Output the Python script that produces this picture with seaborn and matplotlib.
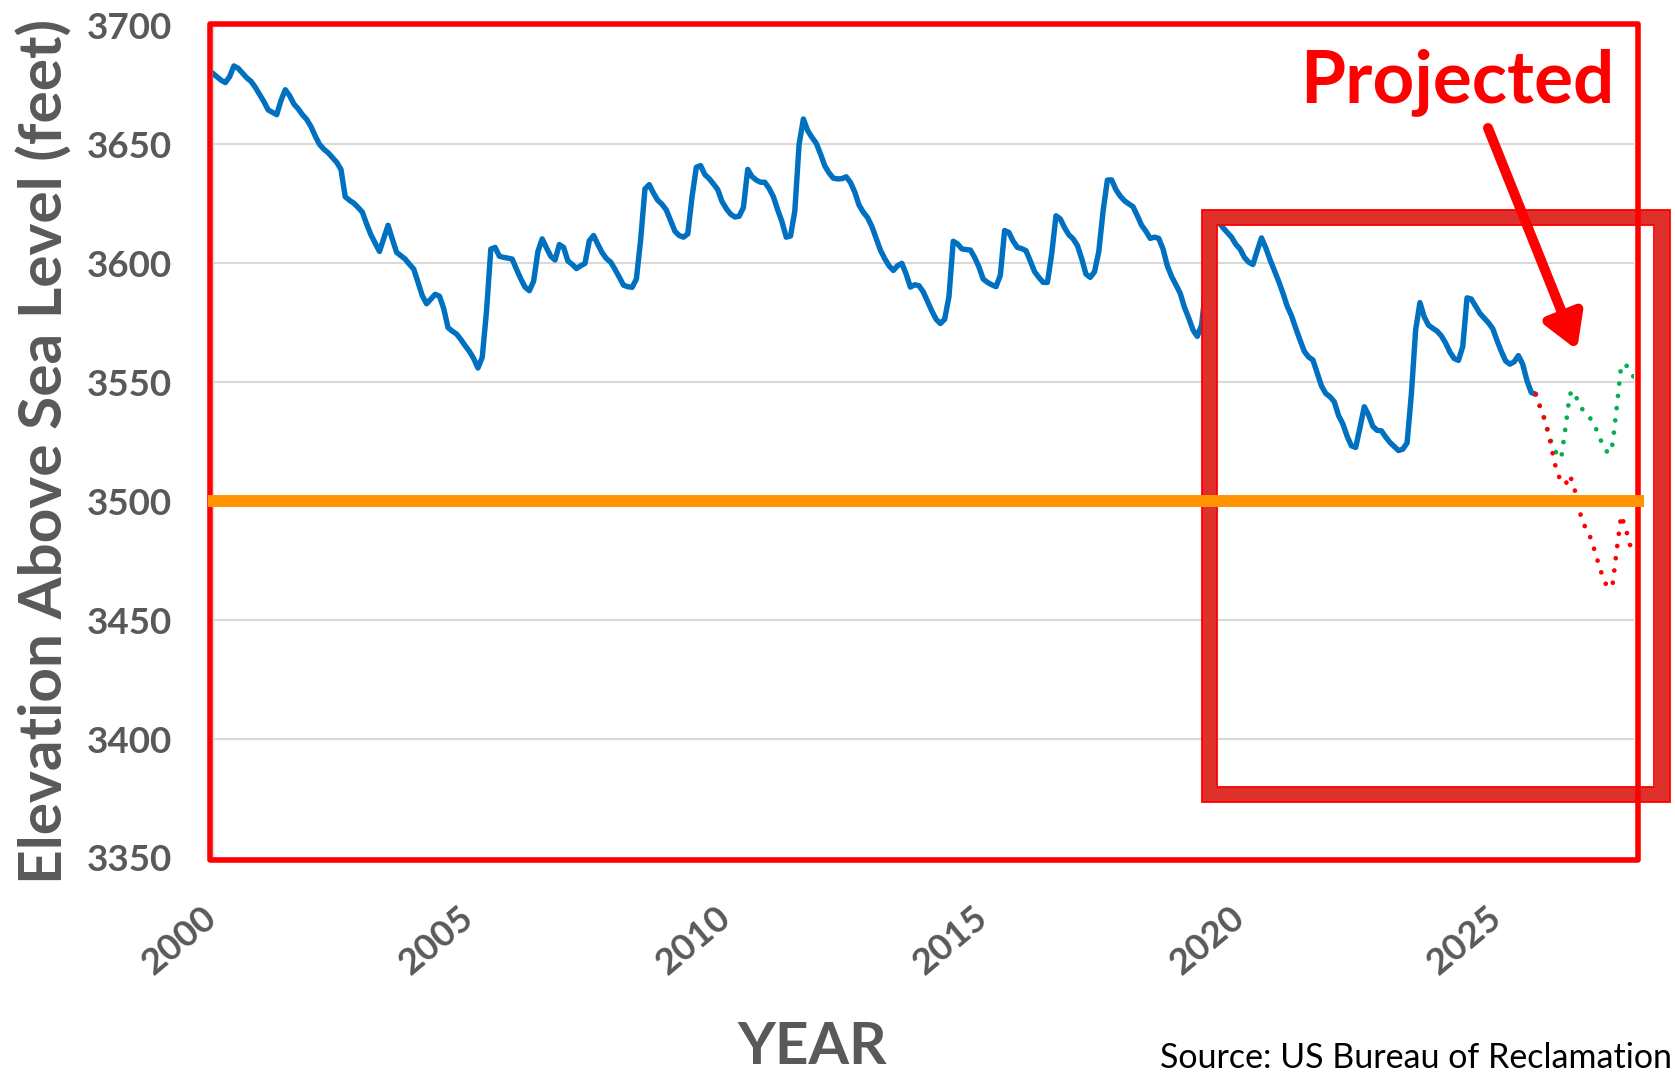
# Lake Powell elevation, observed + 24-month projection

import numpy as np
import pandas as pd
import matplotlib
matplotlib.use("Agg")
import matplotlib.pyplot as plt
import seaborn as sns
from matplotlib.patches import Rectangle


# ============================================================
# Data (end-of-month elevation, feet above sea level)
# ============================================================

observed_ft = [
    3680, 3678.5, 3677, 3676, 3678.5, 3683, 3682, 3680, 3678, 3676.5, 3674, 3671,              # 2000
    3668, 3664.5, 3663.5, 3662.5, 3668.5, 3673, 3670.5, 3667, 3665, 3662.5, 3660.5, 3657.5,    # 2001
    3653.5, 3650, 3648, 3646.5, 3644.5, 3642.5, 3639.5, 3628, 3626.5, 3625.3, 3623.5, 3621.5,  # 2002
    3616.5, 3612, 3608.5, 3605, 3610.5, 3616, 3610.2, 3604.6, 3603.2, 3601.8, 3599.6, 3597.6,  # 2003
    3592, 3586.4, 3583, 3585, 3587, 3586.2, 3581, 3573, 3571.5, 3570.3, 3568, 3565.4,          # 2004
    3563, 3560, 3556, 3560.5, 3580, 3606, 3606.7, 3603, 3602.5, 3602.2, 3601.8, 3597.5,        # 2005
    3593.5, 3590, 3588.5, 3592.5, 3605, 3610.3, 3606.5, 3603, 3601.4, 3607.9, 3606.7, 3601,    # 2006
    3599.6, 3597.8, 3599, 3600, 3609.5, 3611.7, 3608, 3604.5, 3602, 3600.5, 3597.5, 3594.2,    # 2007
    3590.8, 3590.2, 3589.9, 3593.4, 3610, 3631.3, 3633.1, 3629.5, 3626.5, 3624.8, 3622.4, 3618,  # 2008
    3613.5, 3611.7, 3611, 3612.4, 3628, 3640.4, 3641.1, 3637.3, 3635.6, 3633.4, 3631, 3626,    # 2009
    3623, 3620.7, 3619.5, 3619.8, 3623.5, 3639.5, 3636.5, 3635, 3634.1, 3634.1, 3631.5, 3628,  # 2010
    3622.5, 3617.5, 3611, 3611.5, 3622, 3650, 3660.7, 3655.8, 3653, 3650.5, 3646, 3641,        # 2011
    3638, 3635.8, 3635.5, 3635.6, 3636.4, 3634, 3630, 3624.5, 3621.5, 3619.2, 3615.5, 3610.5,  # 2012
    3605.5, 3602, 3599, 3597, 3599, 3600, 3595.5, 3590, 3591, 3590.6, 3588, 3584,              # 2013
    3580, 3576.5, 3574.7, 3576.5, 3586, 3609.3, 3608.2, 3606.1, 3605.8, 3605.6, 3602.5, 3598.5,  # 2014
    3593.4, 3592, 3591, 3590.2, 3595, 3613.8, 3613, 3609.3, 3606.7, 3606.2, 3605.3, 3601,      # 2015
    3596.5, 3594.1, 3592, 3592, 3604, 3620, 3618.7, 3615, 3612, 3610.3, 3607.5, 3602,          # 2016
    3595.5, 3594.1, 3596.5, 3605, 3622, 3635, 3635.1, 3631, 3628.3, 3626.3, 3625, 3623.8,      # 2017
    3620, 3616, 3613.5, 3610.5, 3611, 3610.5, 3606, 3599, 3594.5, 3591, 3587.5, 3581.5,        # 2018
    3577, 3572, 3569.3, 3574, 3590, 3611, 3620, 3617.5, 3615, 3613, 3611, 3608,                # 2019
    3606, 3602.5, 3600.5, 3599.5, 3605.3, 3610.7, 3606.5, 3601.5, 3597, 3592.5, 3587.5, 3582,  # 2020
    3578, 3572.7, 3567.7, 3563, 3560.6, 3559.4, 3554, 3548.5, 3545.3, 3543.9, 3541.8, 3536,    # 2021
    3532.5, 3527.3, 3523.3, 3522.6, 3531, 3539.7, 3536.3, 3531.5, 3529.8, 3529.6, 3527, 3524.7,  # 2022
    3523, 3521.3, 3521.9, 3524.5, 3545, 3572, 3583.5, 3577.5, 3574, 3572.7, 3571.5, 3569.5,    # 2023
    3566.5, 3562.7, 3560, 3559.2, 3565, 3585.5, 3585, 3582, 3579, 3577, 3575, 3572.6,          # 2024
    3567.6, 3563, 3559, 3557.6, 3558.6, 3561.2, 3557.6, 3550.7, 3545.7, 3545,                  # 2025 (Jan-Oct)
]

# projections start at the last observed month (Oct 2025) and run to Sep 2027
proj_low_ft = [
    3545, 3540, 3535, 3529, 3520, 3512, 3508.5, 3507, 3511, 3506, 3498, 3491,
    3488, 3484, 3478, 3472, 3466.5, 3463.5, 3465, 3480, 3494, 3489, 3482, 3477,
]
proj_high_ft = [
    3545, 3540, 3535, 3528, 3523.5, 3519.8, 3518, 3531, 3545, 3546.4, 3541.3, 3538.5,
    3536.3, 3534.4, 3531, 3526.5, 3522.8, 3520, 3524, 3540, 3557, 3557.6, 3555, 3552,
]

threshold_ft = 3500
year_ticks = [2000, 2005, 2010, 2015, 2020, 2025]
elev_ticks = [3350, 3400, 3450, 3500, 3550, 3600, 3650, 3700]

# month index -> decimal year
obs_months = np.arange(len(observed_ft))
proj_months = np.arange(len(proj_low_ft)) + len(observed_ft) - 1

observed = pd.DataFrame({"year": 2000 + obs_months / 12, "elevation": observed_ft})
projected = pd.DataFrame({
    "year": 2000 + proj_months / 12,
    "low": proj_low_ft,
    "high": proj_high_ft,
})


# ============================================================
# Theme
# ============================================================

sns.set_theme(style="white")
plt.rcParams["font.family"] = ["Lato", "DejaVu Sans"]

GREY = "#595959"
W, H = 1675, 1074


def px_box(left, top, right, bottom):
    """pixel box -> (xy, width, height) in figure fraction"""
    return (left / W, 1 - bottom / H), (right - left) / W, (bottom - top) / H


# ============================================================
# Figure
# ============================================================

fig = plt.figure(figsize=(W / 100, H / 100), dpi=100)
ax = fig.add_axes([0.12687, 0.20112, 0.84866, 0.77514])

sns.lineplot(data=observed, x="year", y="elevation", color="#0070C0",
             linewidth=3.9, ax=ax, zorder=3)
sns.lineplot(data=projected, x="year", y="high", color="#00B050",
             linewidth=3.4, linestyle=(0, (0.01, 2.6)), dash_capstyle="round",
             ax=ax, zorder=3)
sns.lineplot(data=projected, x="year", y="low", color="#FF0000",
             linewidth=3.4, linestyle=(0, (0.01, 2.6)), dash_capstyle="round",
             ax=ax, zorder=3)

ax.axhline(threshold_ft, xmin=-0.0032, xmax=1.007, color="#FF9300",
           linewidth=8.6, solid_capstyle="butt", clip_on=False, zorder=8)

ax.set_xlim(2000, 2000 + 332 / 12)
ax.set_ylim(3350, 3700)
ax.set_xticks(year_ticks)
ax.set_yticks(elev_ticks)

ax.yaxis.grid(True, color="#D9D9D9", linewidth=1.5)
ax.xaxis.grid(False)
for side in ["top", "right"]:
    ax.spines[side].set_visible(False)
for side in ["left", "bottom"]:
    ax.spines[side].set_color("#D9D9D9")
    ax.spines[side].set_linewidth(1.0)

ax.tick_params(axis="both", length=0, labelsize=26.5, labelcolor=GREY)
ax.tick_params(axis="y", pad=29)
ax.tick_params(axis="x", pad=40)
for label in ax.get_yticklabels():
    label.set_fontweight("bold")
for label in ax.get_xticklabels():
    label.set_fontweight("bold")
    label.set_rotation(40)
    label.set_ha("right")
    label.set_va("center")
    label.set_rotation_mode("anchor")

ax.set_xlabel("YEAR", fontsize=42, fontweight="bold", color=GREY, va="baseline")
ax.xaxis.set_label_coords(0.4217, -0.2474)
ax.set_ylabel("Elevation Above Sea Level (feet)", fontsize=43.5,
              fontweight="bold", color=GREY, va="baseline")
ax.yaxis.set_label_coords(-0.1057, 0.4889)


# ------------------------------------------------------------
# Red frames
# ------------------------------------------------------------

# highlight box over recent years (sits partly outside the axes)
xy, w, h = px_box(1209, 217, 1661.7, 794.4)
ax.add_patch(Rectangle(xy, w, h, transform=fig.transFigure, fill=False,
                       edgecolor="#E0302B", linewidth=10.8, clip_on=False, zorder=5))
for box in [(1201.5, 209.5, 1669.5, 802), (1216.5, 224.5, 1654, 787)]:
    xy, w, h = px_box(*box)
    ax.add_patch(Rectangle(xy, w, h, transform=fig.transFigure, fill=False,
                           edgecolor="#FF0000", linewidth=1.3, clip_on=False, zorder=5))

# outer border round the plot area
xy, w, h = px_box(209.5, 24, 1638, 859.5)
ax.add_patch(Rectangle(xy, w, h, transform=fig.transFigure, fill=False,
                       edgecolor="#FF0000", linewidth=4.0, joinstyle="round",
                       clip_on=False, zorder=6))


# ------------------------------------------------------------
# Annotation
# ------------------------------------------------------------

fig.text(1457 / W, 1 - 101.7 / H, "Projected", color="#FF0000", fontsize=52.5,
         fontweight="bold", ha="center", va="baseline")
ax.annotate("", xy=(1577 / W, 1 - 350 / H), xytext=(1488 / W, 1 - 128 / H),
            xycoords="figure fraction", textcoords="figure fraction",
            arrowprops=dict(arrowstyle="-|>,head_length=1.35,head_width=0.8",
                            color="#FF0000", lw=7.2, mutation_scale=15,
                            shrinkA=0, shrinkB=0),
            zorder=9)

fig.text(1672 / W, 1 - 1068 / H, "Source: US Bureau of Reclamation",
         ha="right", va="baseline", fontsize=24.5, color="black")

fig.savefig("out.png", dpi=100)
plt.close(fig)
